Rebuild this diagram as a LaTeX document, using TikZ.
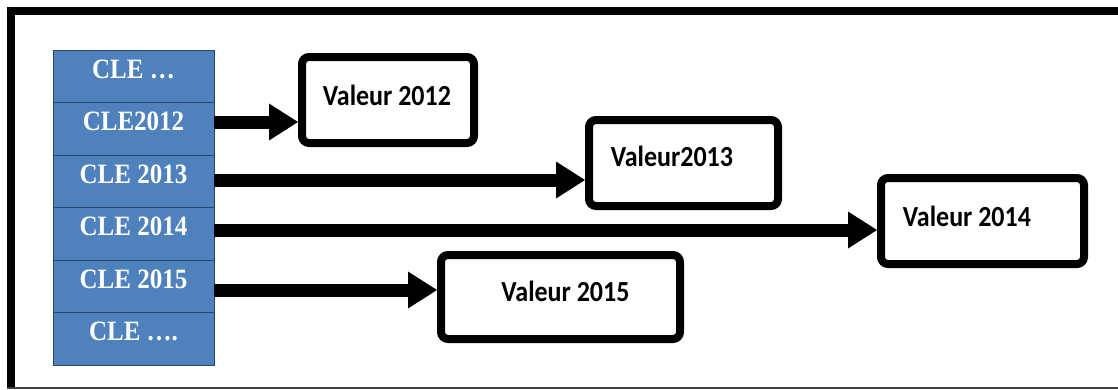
\documentclass[tikz,border=0pt]{standalone}
\usepackage{fontspec}
\usepackage{graphicx}
\setmainfont{Liberation Serif}
\newfontfamily\calib{Carlito}
\usetikzlibrary{arrows.meta}
\definecolor{cellblue}{HTML}{4F81BD}
\definecolor{celledge}{HTML}{2B4566}
\newcommand\tallbox[1]{\scalebox{1}[1.12]{#1}}

\begin{document}
\begin{tikzpicture}[x=1pt,y=-1pt,
  keycell/.style={draw=celledge, line width=1pt, fill=cellblue,
    minimum width=161pt, minimum height=52.5pt, inner sep=0pt, outer sep=0pt},
  keytext/.style={text=white, inner sep=0pt, yshift=7pt,
    font=\fontsize{25}{25}\selectfont\bfseries},
  valbox/.style={draw=black, line width=8pt, rounded corners=7pt, fill=white,
    inner sep=0pt, minimum height=86pt},
  vallabel/.style={text=black, inner sep=0pt,
    font=\calib\fontsize{26}{26}\selectfont\bfseries},
  link/.style={line width=13pt,
    -{Triangle[length=29pt,width=37pt,line width=0pt]}}
]
\useasboundingbox[fill=white] (0,0) rectangle (1118,389);

% frame: heavy top and left edges, thin bottom edge
\draw[line width=8pt] (11,389) -- (11,11) -- (1118,11);
\draw[line width=1.5pt, draw=black!75] (7,388) -- (1118,388);

% key column
\node[keycell, label={[keytext]center:\tallbox{CLE \dots}}]  (k1) at (133.5,76.25)  {};
\node[keycell, label={[keytext]center:\tallbox{CLE2012}}]     (k2) at (133.5,128.75) {};
\node[keycell, label={[keytext]center:\tallbox{CLE 2013}}]    (k3) at (133.5,181.25) {};
\node[keycell, label={[keytext]center:\tallbox{CLE 2014}}]    (k4) at (133.5,233.75) {};
\node[keycell, label={[keytext]center:\tallbox{CLE 2015}}]    (k5) at (133.5,286.25) {};
\node[keycell, label={[keytext]center:\tallbox{CLE \dots.}}] (k6) at (133.5,338.75) {};

% value boxes
\node[valbox, minimum width=172pt,
  label={[vallabel, xshift=-1pt, yshift=5pt]center:\tallbox{Valeur 2012}}] (v12) at (388,100) {};
\node[valbox, minimum width=189pt,
  label={[vallabel, xshift=-11.5pt, yshift=6.5pt]center:\tallbox{Valeur2013}}] (v13) at (683.5,163) {};
\node[valbox, minimum width=203pt,
  label={[vallabel, xshift=-15.5pt, yshift=5pt]center:\tallbox{Valeur 2014}}] (v14) at (982.5,221) {};
\node[valbox, minimum width=239pt, minimum height=84pt,
  label={[vallabel, xshift=5pt, yshift=5.5pt]center:\tallbox{Valeur 2015}}] (v15) at (560.5,297) {};

% levels of the pointers
\coordinate (r12) at (0,122);
\coordinate (r13) at (0,180);
\coordinate (r14) at (0,230);
\coordinate (r15) at (0,290);

% pointers from keys to values
\draw[link] (k2.east |- r12) -- (v12.west |- r12);
\draw[link] (k3.east |- r13) -- (v13.west |- r13);
\draw[link] (k4.east |- r14) -- (v14.west |- r14);
\draw[link] (k5.east |- r15) -- (v15.west |- r15);
\end{tikzpicture}
\end{document}
